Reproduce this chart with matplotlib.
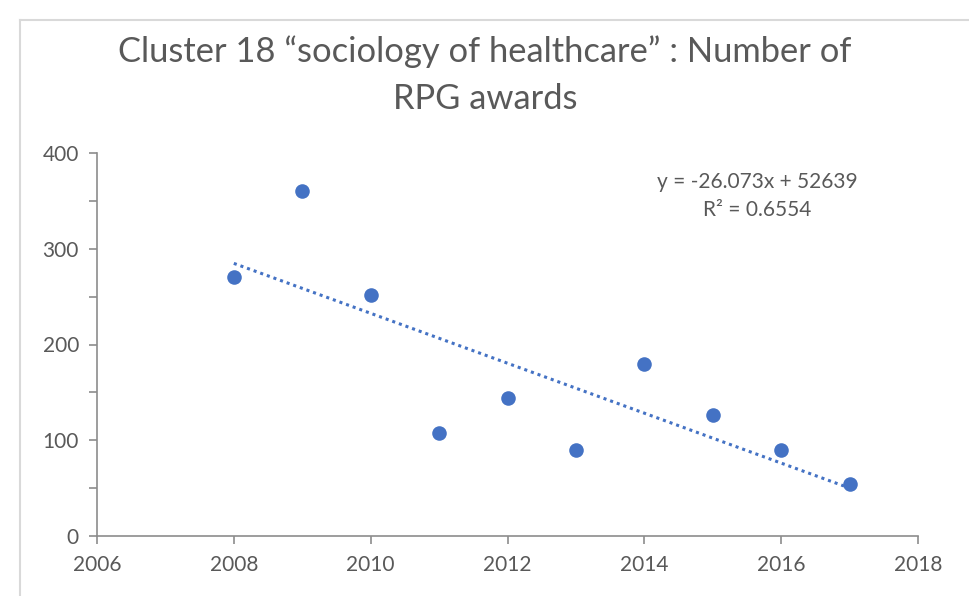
import matplotlib
matplotlib.use("Agg")
import matplotlib.pyplot as plt
import numpy as np
from matplotlib.lines import Line2D

years = [2008, 2009, 2010, 2011, 2012, 2013, 2014, 2015, 2016, 2017]
awards = [270, 360, 252, 108, 144, 90, 180, 126, 90, 54]
x_ticks = [2006, 2008, 2010, 2012, 2014, 2016, 2018]
y_ticks = [0, 100, 200, 300, 400]
title = "Cluster 18 \u201csociology of healthcare\u201d : Number of\nRPG awards"

plt.rcParams['font.family'] = ['Lato', 'DejaVu Sans']

W, H = 970, 596
fig = plt.figure(figsize=(W/100, H/100), dpi=100)
ax = fig.add_axes([97/W, 1-536/H, (918-97)/W, (536-153)/H])

blue = '#4472C4'
grey = '#595959'
axis_c = '#8c8c8c'

ax.scatter(years, awards, s=110, color=blue, zorder=3, linewidths=0)

x = np.array(years, dtype=float)
y = np.array(awards, dtype=float)
slope, intercept = np.polyfit(x, y, 1)
yfit = slope * x + intercept
r2 = 1 - np.sum((y - yfit) ** 2) / np.sum((y - y.mean()) ** 2)
xl = np.array([x.min(), x.max()])
ax.plot(xl, slope * xl + intercept, color=blue, lw=2.2, ls=(0, (1, 1.3)), zorder=2)

ax.set_xlim(2006, 2018)
ax.set_ylim(0, 400)
ax.set_xticks(x_ticks)
ax.set_yticks(y_ticks)
ax.set_yticks([50, 150, 250, 350], minor=True)
for s in ['top', 'right']:
    ax.spines[s].set_visible(False)
for s in ['left', 'bottom']:
    ax.spines[s].set_color(axis_c)
    ax.spines[s].set_linewidth(1.2)
ax.tick_params(axis='both', which='both', direction='out', color=axis_c, width=1.2,
               length=6, labelsize=15, labelcolor=grey, pad=8)
ax.tick_params(axis='y', pad=7)

ax.text(757/W, 1 - 182/H, "y = -26.073x + 52639", transform=fig.transFigure, fontsize=15,
        color=grey, ha='center', va='center')
ax.text(757/W, 1 - 210/H, "R\u00b2 = %.4f" % r2, transform=fig.transFigure, fontsize=15,
        color=grey, ha='center', va='center')

fig.text(0.5, 1 - 52/H, title.split("\n")[0], ha='center', va='center', fontsize=24.8, color=grey)
fig.text(0.5, 1 - 99/H, title.split("\n")[1], ha='center', va='center', fontsize=24.8, color=grey)

border = '#d9d9d9'
fig.add_artist(Line2D([20/W, 20/W], [0, 1 - 20/H], transform=fig.transFigure, color=border, lw=1.5))
fig.add_artist(Line2D([20/W, 1], [1 - 20/H, 1 - 20/H], transform=fig.transFigure, color=border, lw=1.5))

fig.savefig("out.png", dpi=100)
